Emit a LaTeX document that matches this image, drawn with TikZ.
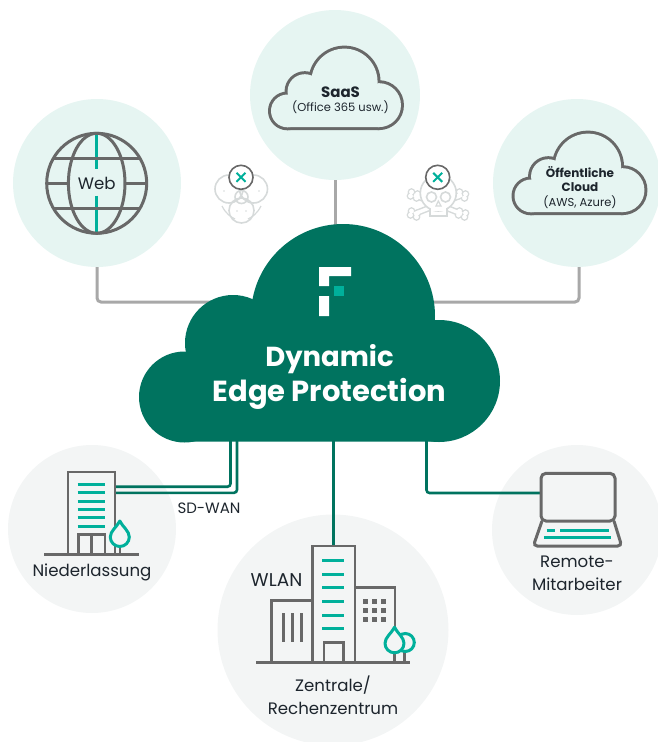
\documentclass[tikz,border=0pt]{standalone}
\usepackage{fontspec}
\setmainfont{Poppins}
\usepackage{xcolor}
\usetikzlibrary{positioning}
\definecolor{edgegreen}{HTML}{00735F}
\definecolor{accent}{HTML}{00B09B}
\definecolor{skytint}{HTML}{E6F5F2}
\definecolor{greytint}{HTML}{F3F5F5}
\definecolor{iconline}{HTML}{686868}
\definecolor{wireline}{HTML}{A8A8A8}
\definecolor{ghost}{HTML}{D6DADA}
\definecolor{inktext}{HTML}{1D252D}
\tikzset{
	hub/.style={circle, inner sep=0pt, minimum size=168pt, fill=skytint},
	site/.style={hub, fill=greytint},
	label/.style={text=inktext, inner sep=0pt, align=center, font=\fontsize{16.6}{23}\selectfont},
	smalltext/.style={label, font=\fontsize{11.5}{14}\selectfont},
	boldtext/.style={label, font=\fontsize{12}{14.5}\selectfont\bfseries},
	titletext/.style={inner sep=0pt, text=white},
	icon/.style={draw=iconline, line width=3pt},
	teal/.style={draw=accent, line width=3pt},
	wire/.style={draw=wireline, line width=3pt, rounded corners=4pt},
	link/.style={draw=edgegreen, line width=2.6pt, rounded corners=3pt},
	threat/.style={draw=ghost, line width=1.6pt, fill=white}
}
% one pass over the bumps of the cloud
\newcommand{\cloudpass}[1]{
	\foreach \cx/\cy/\cr in {45.5/-44.7/45.5, 94/-98.7/48, 204/-125.7/92, 300/-60.7/61}
		\path[#1] (\cx,\cy) circle (\cr);
	\path[#1] (45.5,0) -- (45.5,-44.7) -- (94,-98.7) -- (204,-125.7) -- (300,-60.7) -- (300,0) -- cycle;
}
% outlined cloud: stroke first, then cover the inner half
\newcommand{\smallcloud}[1]{
	\begin{scope}[shift={#1}, scale=0.36]
		\cloudpass{draw=iconline, line width=6pt, line join=round}
		\cloudpass{fill=skytint}
	\end{scope}
}
% drop shaped tree
\newcommand{\droptree}[3]{
	\draw[icon, line width=2.6pt] (#1,#2+9) -- (#1,#3);
	\draw[teal, fill=greytint, line join=round] (#1,#2-16) .. controls (#1+3,#2-10) and (#1+9.5,#2-6) .. (#1+9.5,#2) arc (0:180:9.5) .. controls (#1-9.5,#2-6) and (#1-3,#2-10) .. cycle;
}
% round badge with a cross
\newcommand{\crossbadge}[2]{
	\draw[draw=iconline, line width=1.6pt, fill=white] (#1,#2) circle (12);
	\draw[draw=accent, line width=2pt] (#1-4.5,#2-4.5) -- (#1+4.5,#2+4.5) (#1-4.5,#2+4.5) -- (#1+4.5,#2-4.5);
}

\begin{document}
\begin{tikzpicture}[x=1pt, y=-1pt]
	\useasboundingbox (0,0) rectangle (657,742);
	% Discs
	\node[hub] (web) at (97,183) {};
	\node[hub, minimum size=170pt] (saas) at (335,95) {};
	\node[hub] (pubcloud) at (577,183) {};
	\node[site] (branch) at (92,529) {};
	\node[site, minimum size=231pt] (hq) at (333,630) {};
	\node[site, minimum size=170pt] (remote) at (577,530) {};
	% Coordinates on the big cloud and on the icons
	\coordinate (edgeL) at (240,302);
	\coordinate (edgeT) at (335,240);
	\coordinate (edgeR) at (430,302);
	\coordinate (edgeA) at (230.5,435);
	\coordinate (edgeB) at (237,435);
	\coordinate (edgeC) at (333.5,435);
	\coordinate (edgeD) at (426.5,435);
	\coordinate (towerA) at (115,486.7);
	\coordinate (towerB) at (115,492.8);
	\coordinate (towerC) at (333.5,546);
	\coordinate (laptop) at (541,493);
	% Grey wires
	\draw[wire] (web.south) |- (edgeL);
	\draw[wire] (saas.south) -- (edgeT);
	\draw[wire] (pubcloud.south) ++(2,0) |- (edgeR);
	% Green links
	\draw[link] (edgeA) |- (towerA);
	\draw[link] (edgeB) |- (towerB);
	\draw[link, line width=3pt] (edgeC) -- (towerC);
	\draw[link] (edgeD) |- (laptop);
	% Big cloud
	\begin{scope}[shift={(139,441.7)}]
		\cloudpass{fill=edgegreen}
	\end{scope}
	\fill[white] (319,267) rectangle (351,276) (319,276) rectangle (329,286) (319,296) rectangle (329,316);
	\fill[accent] (334,286) rectangle (344,296);
	\node[titletext, font=\fontsize{27.5}{34}\selectfont\bfseries] (edgetitle) at (329.5,359) {Dynamic};
	\node[titletext, font=\fontsize{29}{34}\selectfont\bfseries] (edgetitleb) at (329.5,394) {Edge Protection};
	% Globe
	\draw[teal] (96.7,133) -- (96.7,169.3) (96.7,195.7) -- (96.7,233);
	\draw[icon] (96.7,183.3) circle (50);
	\draw[icon] (96.7,183.3) ellipse (28.3 and 50);
	\draw[icon] (53,158.3) -- (140.4,158.3) (53,208.3) -- (140.4,208.3);
	\draw[icon] (46.7,183.3) -- (68.4,183.3) (125,183.3) -- (146.7,183.3);
	\node[label] (weblabel) at (96.7,183) {Web};
	% Small clouds
	\smallcloud{(271,127)}
	\node[boldtext, font=\fontsize{15}{17}\selectfont\bfseries] (saastitle) at (340.5,92) {SaaS};
	\node[smalltext] (saastext) [below=3pt of saastitle] {(Office 365 usw.)};
	\smallcloud{(514.5,212)}
	\node[boldtext] (pubtitle) at (580,179) {Öffentliche\\Cloud};
	\node[smalltext] (pubtext) at (580,202) {(AWS, Azure)};
	% Monkey
	\foreach \hx/\hy/\hr in {229/189/14, 253.5/189/14, 241.5/210.5/12.5, 241.5/197/6.5}
		\draw[draw=ghost, line width=1.6pt] (\hx,\hy) circle (\hr);
	\draw[draw=ghost, line width=1.2pt] (222,206) .. controls (226,214) and (231,217) .. (235,219) (261,206) .. controls (257,214) and (252,217) .. (248,219);
	\foreach \hx/\hy in {224/191, 259/191, 237/211, 246/211}
		\fill[ghost] (\hx,\hy) circle (0.9);
	\crossbadge{241}{177.3}
	% Skull
	\foreach \ax/\ay/\bx/\by in {414/195/462/214, 462/195/414/214}{
		\foreach \kx/\ky in {-2.5/-3, 3.5/-1, -3.5/1, 2.5/3}
			\draw[draw=ghost, line width=1.6pt] (\ax+\kx,\ay+\ky) circle (3) (\bx+\kx,\by+\ky) circle (3);
		\draw[draw=ghost, line width=6.5pt] (\ax,\ay) -- (\bx,\by);
		\foreach \kx/\ky in {-2.5/-3, 3.5/-1, -3.5/1, 2.5/3}
			\fill[white] (\ax+\kx,\ay+\ky) circle (2.4) (\bx+\kx,\by+\ky) circle (2.4);
		\draw[draw=white, line width=3.5pt] (\ax,\ay) -- (\bx,\by);
	}
	\draw[threat] (430,205) -- (430,216) -- (447,216) -- (447,205);
	\draw[threat] (438.3,193) circle (18);
	\fill[white] (431,203) rectangle (446,211);
	\draw[threat] (431.5,197) circle (5) (445.5,197) circle (5);
	\draw[draw=ghost, line width=1.2pt] (438.3,201) -- (436,206) -- (441,206) -- cycle;
	\crossbadge{437.7}{177.3}
	% Branch office
	\draw[icon, line width=2.8pt] (68,554) -- (68,472) -- (115,472) -- (115,554);
	\foreach \ly in {484,492.7,501,509.3,517.7,526.3}
		\draw[teal] (77.7,\ly) -- (105.3,\ly);
	\draw[icon, line width=2.8pt] (78.5,554) -- (78.5,534.3) -- (105,534.3) -- (105,554) (91.7,534.3) -- (91.7,554);
	\droptree{119.8}{537}{554}
	\draw[icon, line width=2.8pt] (44,554.3) -- (139,554.3);
	\node[label] (branchlabel) at (92,572) {Niederlassung};
	\node[label, font=\fontsize{15}{17}\selectfont] (sdwan) at (209,508) {SD-WAN};
	% Head office
	\draw[icon, line width=2.8pt] (312.7,662) -- (312.7,546) -- (355,546) -- (355,662);
	\draw[icon, line width=2.8pt] (312.7,600.7) -- (271.7,600.7) -- (271.7,662);
	\draw[icon, line width=2.8pt] (355,587.3) -- (395,587.3) -- (395,640);
	\foreach \vx in {283.3,292.3,301.7}
		\draw[icon, line width=2.8pt] (\vx,613) -- (\vx,641.7);
	\foreach \dx in {365.3,374.3,383.3}
		\foreach \dy in {601.3,610.3,619.3}
			\fill[iconline] (\dx-2.5,\dy-2.5) rectangle (\dx+2.5,\dy+2.5);
	\foreach \ly in {560.7,574,587.7,601.3,615,628.3}
		\draw[teal] (322.3,\ly) -- (344.3,\ly);
	\draw[icon, line width=2.8pt] (324,662) -- (324,642.7) -- (343.3,642.7) -- (343.3,662);
	\draw[icon, line width=2.6pt] (404.5,651) -- (404.5,662);
	\draw[teal, fill=greytint] (405.3,642.5) circle (9);
	\droptree{394.5}{643.3}{662}
	\draw[icon, line width=2.8pt] (256,662.7) -- (410,662.7);
	\node[label, font=\fontsize{18.5}{23}\selectfont] (wlan) at (276.5,580) {WLAN};
	\node[label] (hqlabel) at (333,695) {Zentrale/\\Rechenzentrum};
	% Laptop
	\draw[icon, rounded corners=5pt] (541,473.3) rectangle (615,521);
	\draw[icon, rounded corners=4pt] (542,521) -- (533.3,546) -- (621.7,546) -- (614,521);
	\draw[teal] (546.7,530) -- (555,530) (560,530) -- (609,530) (544,537.3) -- (611,537.3);
	\node[label] (remotelabel) at (577,573) {Remote-\\Mitarbeiter};
\end{tikzpicture}
\end{document}
